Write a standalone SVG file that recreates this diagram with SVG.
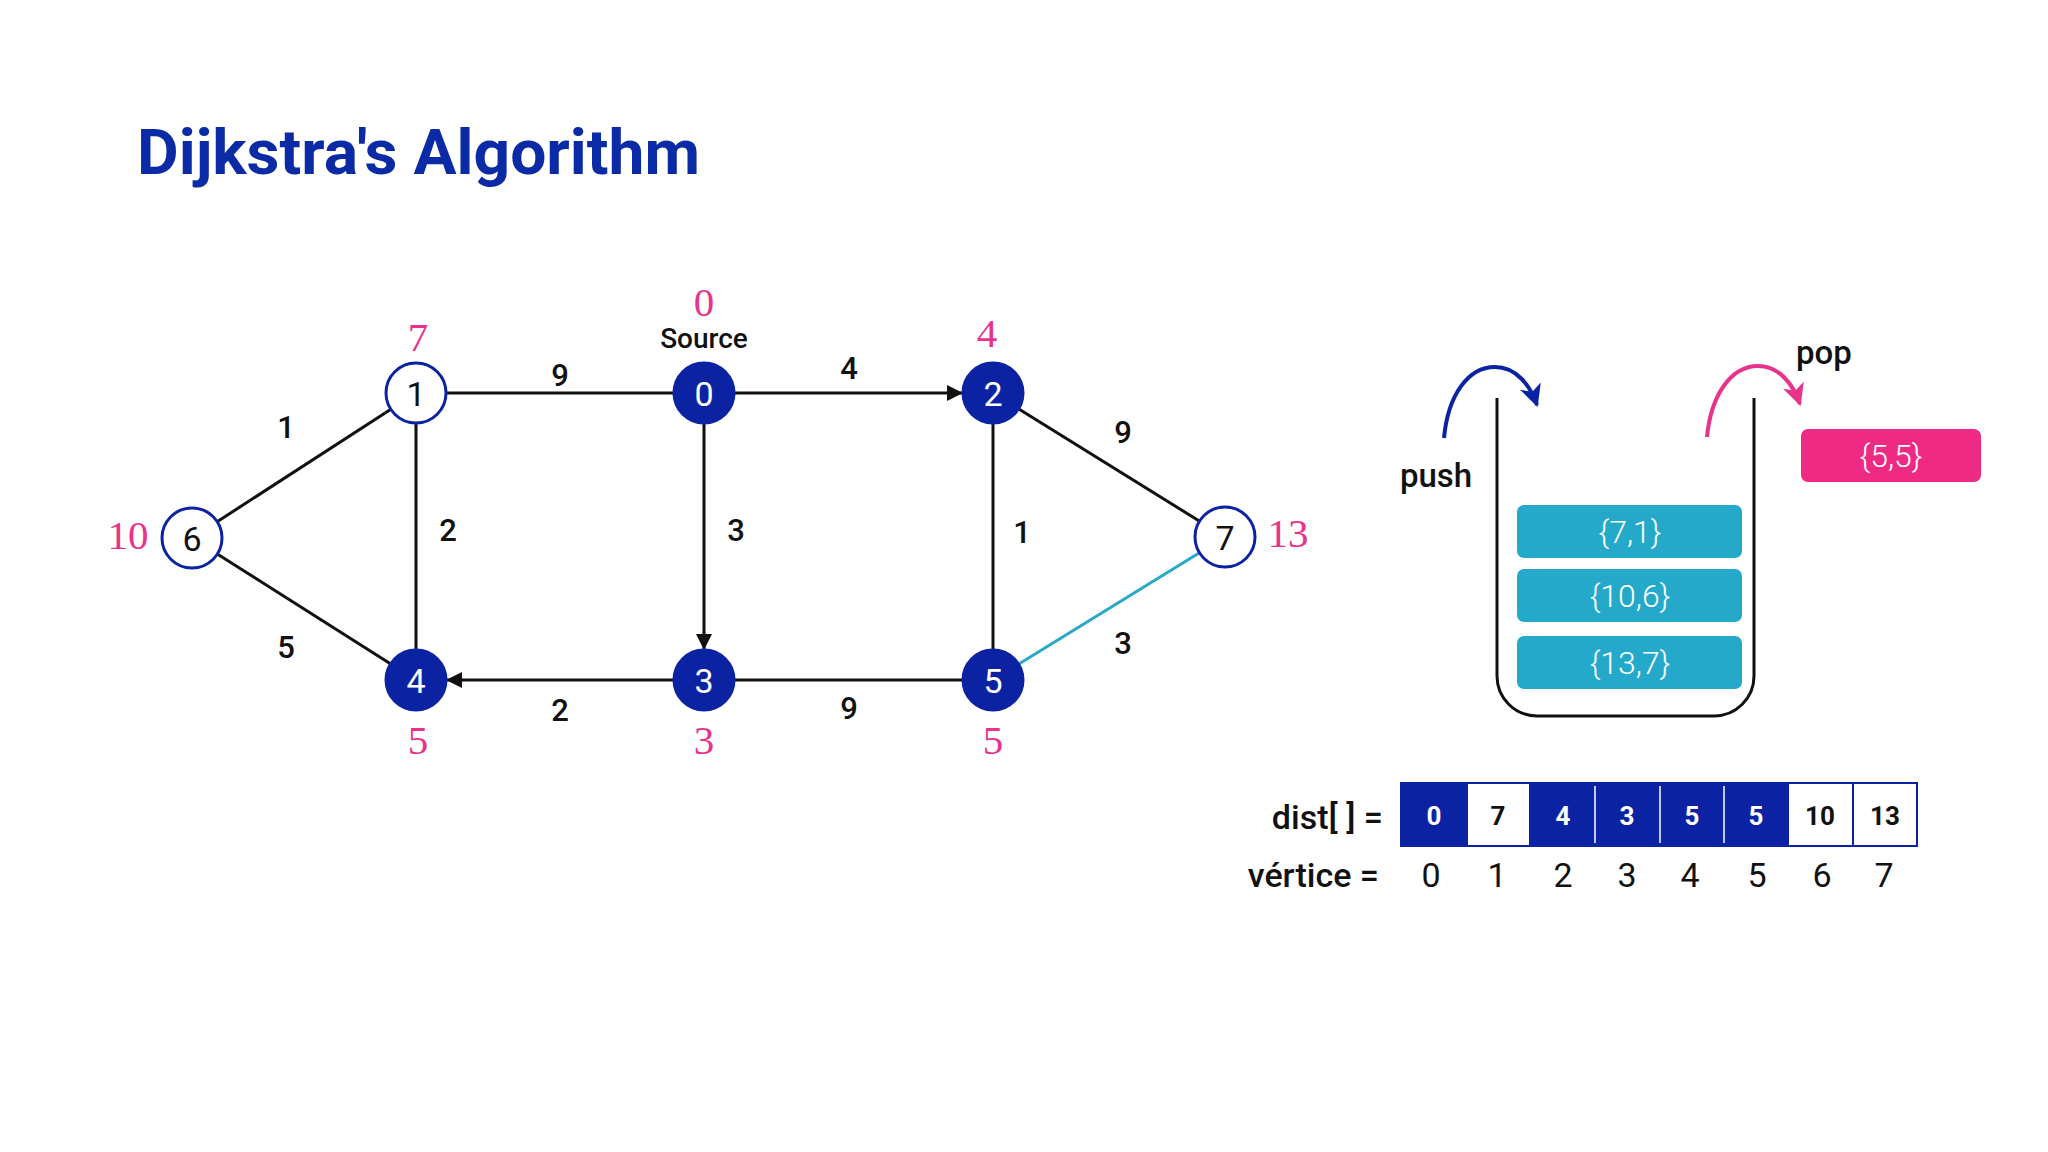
<svg xmlns="http://www.w3.org/2000/svg" width="2048" height="1152" viewBox="0 0 2048 1152">
<defs>
<style>
.edge{stroke:#111;stroke-width:3;fill:none}
.nfill{fill:#0b23a3;stroke:#0b23a3;stroke-width:3}
.nopen{fill:#fff;stroke:#0b23a3;stroke-width:3}
.nt{font-family:Roboto,"Liberation Sans",sans-serif;font-size:34px;text-anchor:middle;dominant-baseline:central}
.wt{fill:#fff}
.bt{fill:#111}
.w{font-family:Roboto,"Liberation Sans",sans-serif;font-size:31px;font-weight:500;fill:#111;text-anchor:middle;dominant-baseline:central}
.d{font-family:"Liberation Serif",serif;font-size:41px;fill:#e8338a;text-anchor:middle;dominant-baseline:central}
.lbl{font-family:Roboto,"Liberation Sans",sans-serif;font-weight:500;fill:#111;dominant-baseline:central}
.item{fill:#25a9cb}
.it{font-family:Roboto,"Liberation Sans",sans-serif;font-weight:300;font-size:32px;fill:#fff;text-anchor:middle;dominant-baseline:central}
.cb{fill:#0b23a3;stroke:#0b23a3;stroke-width:2}
.cw{fill:#fff;stroke:#0b23a3;stroke-width:2}
.ct{font-family:Roboto,"Liberation Sans",sans-serif;font-weight:700;font-size:26px;text-anchor:middle;dominant-baseline:central}
.vi{font-family:Roboto,"Liberation Sans",sans-serif;font-size:34px;fill:#111;text-anchor:middle;dominant-baseline:central}
</style>
<marker id="ah" markerUnits="userSpaceOnUse" markerWidth="16" markerHeight="16" viewBox="0 0 16 16" refX="15" refY="8" orient="auto">
<path d="M0,0 L16,8 L0,16 z" fill="#111"/>
</marker>
<marker id="ahb" markerUnits="userSpaceOnUse" markerWidth="22" markerHeight="22" viewBox="0 0 22 22" refX="20" refY="11" orient="auto">
<path d="M0,0 L22,11 L0,22 L6,11 z" fill="#0b23a3"/>
</marker>
<marker id="ahp" markerUnits="userSpaceOnUse" markerWidth="22" markerHeight="22" viewBox="0 0 22 22" refX="20" refY="11" orient="auto">
<path d="M0,0 L22,11 L0,22 L6,11 z" fill="#e8338a"/>
</marker>
</defs>
<rect width="2048" height="1152" fill="#fff"/>
<text x="137" y="174" font-family="Roboto,'Liberation Sans',sans-serif" font-weight="700" font-size="63" fill="#0b2aa6" textLength="563" lengthAdjust="spacingAndGlyphs">Dijkstra's Algorithm</text>

<g id="connectors">
<line class="edge" x1="192" y1="538" x2="416" y2="393"/>
<line class="edge" x1="192" y1="538" x2="416" y2="680"/>
<line class="edge" x1="416" y1="393" x2="704" y2="393"/>
<line class="edge" x1="416" y1="393" x2="416" y2="680"/>
<line class="edge" x1="735" y1="393" x2="962" y2="393" marker-end="url(#ah)"/>
<line class="edge" x1="704" y1="424" x2="704" y2="649" marker-end="url(#ah)"/>
<line class="edge" x1="673" y1="680" x2="447" y2="680" marker-end="url(#ah)"/>
<line class="edge" x1="704" y1="680" x2="993" y2="680"/>
<line class="edge" x1="993" y1="393" x2="993" y2="680"/>
<line class="edge" x1="993" y1="393" x2="1225" y2="537"/>
<line x1="993" y1="680" x2="1225" y2="537" stroke="#2aa8c8" stroke-width="3"/>
<text class="w" x="286" y="427">1</text>
<text class="w" x="286" y="647">5</text>
<text class="w" x="560" y="375">9</text>
<text class="w" x="448" y="530">2</text>
<text class="w" x="849" y="368">4</text>
<text class="w" x="736" y="530">3</text>
<text class="w" x="560" y="710">2</text>
<text class="w" x="849" y="708">9</text>
<text class="w" x="1022" y="532">1</text>
<text class="w" x="1123" y="432">9</text>
<text class="w" x="1123" y="643">3</text>
</g>

<g id="node-0"><circle class="nfill" cx="704" cy="393" r="30"/><text class="nt wt" x="704" y="394">0</text><text class="d" x="704" y="302">0</text><text class="lbl" x="704" y="338" font-size="28" text-anchor="middle">Source</text></g>
<g id="node-1"><circle class="nopen" cx="416" cy="393" r="30"/><text class="nt bt" x="416" y="394">1</text><text class="d" x="418" y="337">7</text></g>
<g id="node-2"><circle class="nfill" cx="993" cy="393" r="30"/><text class="nt wt" x="993" y="394">2</text><text class="d" x="987" y="333">4</text></g>
<g id="node-3"><circle class="nfill" cx="704" cy="680" r="30"/><text class="nt wt" x="704" y="681">3</text><text class="d" x="704" y="740">3</text></g>
<g id="node-4"><circle class="nfill" cx="416" cy="680" r="30"/><text class="nt wt" x="416" y="681">4</text><text class="d" x="418" y="740">5</text></g>
<g id="node-5"><circle class="nfill" cx="993" cy="680" r="30"/><text class="nt wt" x="993" y="681">5</text><text class="d" x="993" y="740">5</text></g>
<g id="node-6"><circle class="nopen" cx="192" cy="538" r="30"/><text class="nt bt" x="192" y="539">6</text><text class="d" x="128" y="535">10</text></g>
<g id="node-7"><circle class="nopen" cx="1225" cy="537" r="30"/><text class="nt bt" x="1225" y="538">7</text><text class="d" x="1288" y="533">13</text></g>

<g id="stack">
<path d="M1497,398 V676 A40,40 0 0 0 1537,716 H1714 A40,40 0 0 0 1754,676 V398" fill="none" stroke="#111" stroke-width="3"/>
<rect class="item" x="1517" y="505" width="225" height="53" rx="7"/>
<text class="it" x="1630" y="532">{7,1}</text>
<rect class="item" x="1517" y="569" width="225" height="53" rx="7"/>
<text class="it" x="1630" y="596">{10,6}</text>
<rect class="item" x="1517" y="636" width="225" height="53" rx="7"/>
<text class="it" x="1630" y="663">{13,7}</text>
</g>
<g id="push">
<path d="M1444,438 C1448,395 1468,367 1495,367 C1516,367 1530,385 1537,405" fill="none" stroke="#0b23a3" stroke-width="4" marker-end="url(#ahb)"/>
<text class="lbl" x="1436" y="475" font-size="33" text-anchor="middle">push</text>
</g>
<g id="pop">
<path d="M1707,437 C1711,395 1731,366 1758,366 C1779,366 1793,384 1800,404" fill="none" stroke="#e8338a" stroke-width="4" marker-end="url(#ahp)"/>
<text class="lbl" x="1824" y="352" font-size="33" text-anchor="middle">pop</text>
</g>
<g id="popped">
<rect x="1801" y="429" width="180" height="53" rx="7" fill="#ee2a85"/>
<text class="it" x="1891" y="456">{5,5}</text>
</g>

<g id="dist">
<text class="lbl" x="1383" y="817" font-size="34" text-anchor="end">dist[ ] =</text>
<rect class="cb" x="1401" y="783" width="66" height="63"/>
<rect class="cw" x="1467" y="783" width="63" height="63"/>
<rect class="cb" x="1530" y="783" width="65" height="63"/>
<rect class="cb" x="1595" y="783" width="65" height="63"/>
<rect class="cb" x="1660" y="783" width="64" height="63"/>
<rect class="cb" x="1724" y="783" width="64" height="63"/>
<rect class="cw" x="1788" y="783" width="65" height="63"/>
<rect class="cw" x="1853" y="783" width="64" height="63"/>
<line x1="1595" y1="786" x2="1595" y2="843" stroke="#fff" stroke-width="1.5"/>
<line x1="1660" y1="786" x2="1660" y2="843" stroke="#fff" stroke-width="1.5"/>
<line x1="1724" y1="786" x2="1724" y2="843" stroke="#fff" stroke-width="1.5"/>
<text class="ct wt" x="1434" y="816">0</text>
<text class="ct bt" x="1498" y="816">7</text>
<text class="ct wt" x="1563" y="816">4</text>
<text class="ct wt" x="1627" y="816">3</text>
<text class="ct wt" x="1692" y="816">5</text>
<text class="ct wt" x="1756" y="816">5</text>
<text class="ct bt" x="1820" y="816">10</text>
<text class="ct bt" x="1885" y="816">13</text>
<text class="lbl" x="1379" y="875" font-size="34" text-anchor="end">vértice =</text>
<text class="vi" x="1431" y="875">0</text>
<text class="vi" x="1497" y="875">1</text>
<text class="vi" x="1563" y="875">2</text>
<text class="vi" x="1627" y="875">3</text>
<text class="vi" x="1690" y="875">4</text>
<text class="vi" x="1757" y="875">5</text>
<text class="vi" x="1822" y="875">6</text>
<text class="vi" x="1884" y="875">7</text>
</g>
</svg>
